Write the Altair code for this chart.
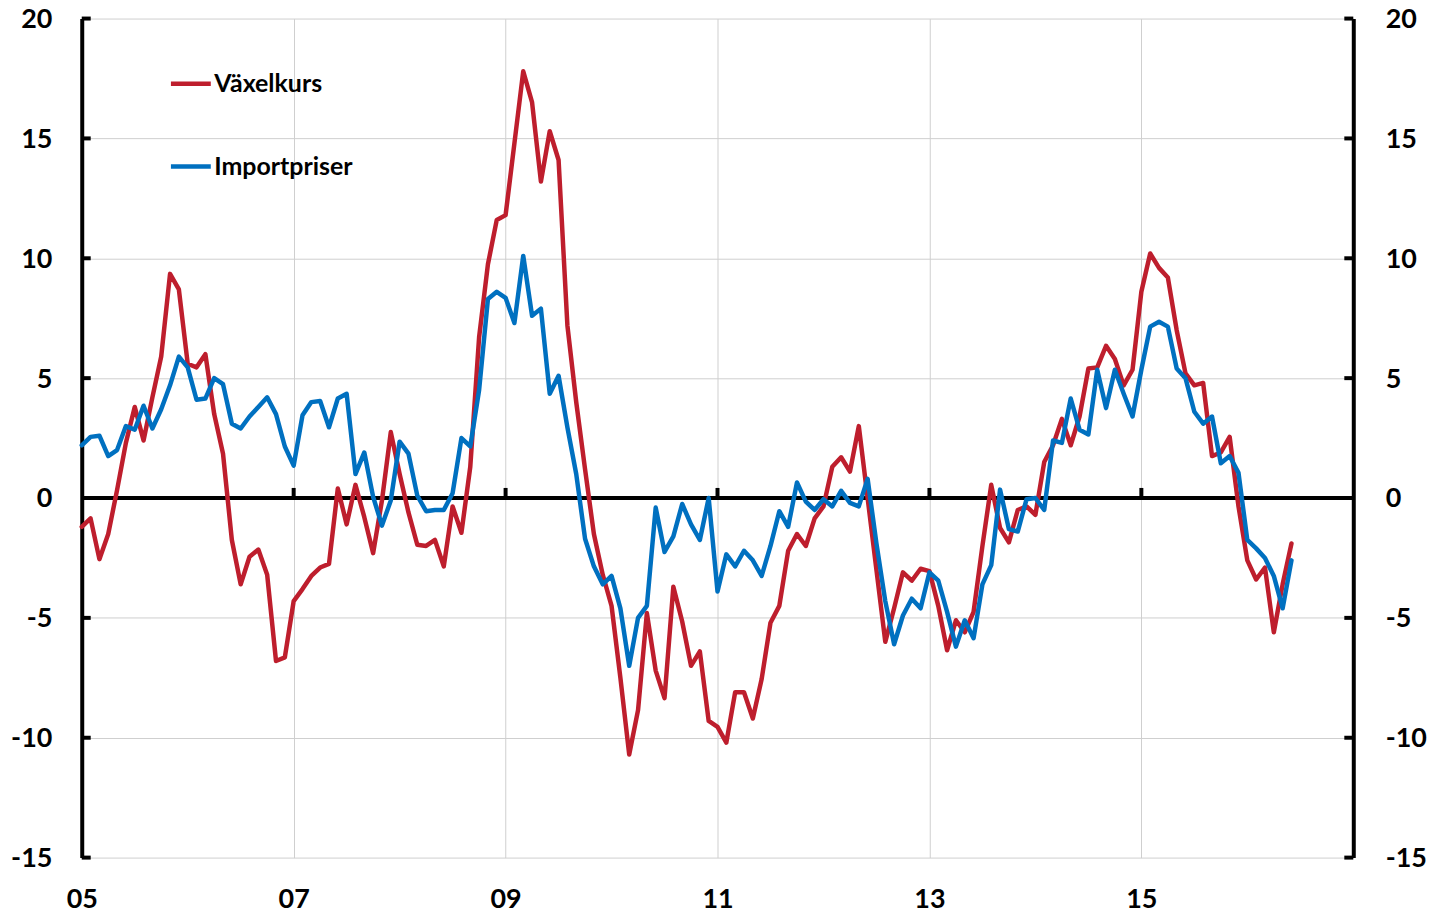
import altair as alt
import pandas as pd

# Monthly values, Jan 2005 - Jun 2016 (annual percentage change)
vaxelkurs = [
    -1.2, -0.85, -2.55, -1.5, 0.33, 2.3, 3.8, 2.4, 4.2, 5.9, 9.35, 8.7,
    5.6, 5.45, 6.0, 3.5, 1.85, -1.75, -3.6, -2.45, -2.15, -3.2, -6.8, -6.65,
    -4.3, -3.8, -3.25, -2.9, -2.75, 0.4, -1.1, 0.55, -0.8, -2.3, -0.1, 2.75,
    1.0, -0.6, -1.95, -2.0, -1.75, -2.85, -0.35, -1.45, 1.3, 6.7, 9.75, 11.6,
    11.8, 14.8, 17.8, 16.5, 13.2, 15.3, 14.1, 7.2, 4.0, 1.2, -1.5, -3.2,
    -4.5, -7.5, -10.7, -8.85, -4.8, -7.2, -8.35, -3.7, -5.15, -7.0, -6.4, -9.3,
    -9.55, -10.2, -8.1, -8.1, -9.2, -7.55, -5.2, -4.5, -2.2, -1.5, -2.0, -0.85,
    -0.35, 1.3, 1.7, 1.1, 3.0, 0.0, -3.0, -6.0, -4.6, -3.1, -3.45, -2.95,
    -3.05, -4.5, -6.35, -5.1, -5.6, -4.75, -2.0, 0.55, -1.25, -1.85, -0.5, -0.35,
    -0.7, 1.5, 2.2, 3.3, 2.2, 3.4, 5.4, 5.45, 6.35, 5.8, 4.7, 5.35,
    8.6, 10.2, 9.6, 9.2, 7.0, 5.2, 4.7, 4.8, 1.75, 1.9, 2.55, -0.35,
    -2.6, -3.4, -2.9, -5.6, -3.6, -1.9,
]
importpriser = [
    2.2, 2.55, 2.6, 1.75, 2.0, 3.0, 2.85, 3.85, 2.9, 3.7, 4.7, 5.9,
    5.45, 4.1, 4.15, 5.0, 4.75, 3.1, 2.9, 3.4, 3.8, 4.2, 3.5, 2.15,
    1.35, 3.45, 4.0, 4.05, 2.95, 4.15, 4.35, 1.0, 1.9, 0.05, -1.15, -0.1,
    2.35, 1.85, 0.1, -0.55, -0.5, -0.5, 0.2, 2.5, 2.15, 4.5, 8.3, 8.6,
    8.35, 7.3, 10.1, 7.6, 7.9, 4.35, 5.1, 2.95, 1.0, -1.7, -2.85, -3.6,
    -3.25, -4.6, -7.0, -5.0, -4.5, -0.4, -2.25, -1.6, -0.25, -1.1, -1.75, 0.0,
    -3.9, -2.35, -2.85, -2.2, -2.6, -3.25, -2.0, -0.55, -1.2, 0.65, -0.15, -0.5,
    -0.05, -0.35, 0.3, -0.2, -0.35, 0.8, -1.9, -4.3, -6.1, -4.9, -4.2, -4.6,
    -3.1, -3.45, -4.75, -6.2, -5.1, -5.85, -3.6, -2.8, 0.35, -1.3, -1.4, -0.05,
    0.0, -0.5, 2.4, 2.3, 4.15, 2.85, 2.65, 5.35, 3.75, 5.35, 4.35, 3.4,
    5.35, 7.15, 7.35, 7.15, 5.4, 5.0, 3.6, 3.1, 3.4, 1.45, 1.75, 1.05,
    -1.75, -2.1, -2.5, -3.25, -4.6, -2.6,
]
series_names = ["Växelkurs", "Importpriser"]
x_tick_years = [2005, 2007, 2009, 2011, 2013, 2015]
zero_tick_years = [2007, 2009, 2011, 2013, 2015]
y_ticks = [-15, -10, -5, 0, 5, 10, 15, 20]

RED = "#BE1E2D"
BLUE = "#0070C0"
GRID = "#cfcfcf"
FONT = "Lato"
W, H = 1276, 842

t = [2005 + i / 12 for i in range(len(vaxelkurs))]
df = pd.DataFrame(
    {
        "t": t + t,
        "value": vaxelkurs + importpriser,
        "series": [series_names[0]] * len(t) + [series_names[1]] * len(t),
    }
)

x_scale = alt.Scale(domain=[2005, 2017], nice=False, zero=False)
y_scale = alt.Scale(domain=[-15, 20], nice=False, zero=False)

x_axis = alt.Axis(
    values=x_tick_years,
    labelExpr="substring(toString(datum.value), 2)",
    grid=True, gridColor=GRID, gridWidth=1,
    domain=False, ticks=False, tickSize=0,
    labelPadding=29, labelFlush=False, labelOverlap=False,
    labelFont=FONT, labelFontSize=27, labelFontWeight="bold", labelColor="black",
    title=None,
)
y_axis_left = alt.Axis(
    orient="left", values=y_ticks,
    labelExpr="toString(datum.value)",
    grid=True, gridColor=GRID, gridWidth=1,
    domain=True, domainColor="black", domainWidth=4,
    ticks=False, tickSize=0, labelPadding=30, labelOverlap=False, labelOffset=1,
    labelFont=FONT, labelFontSize=27, labelFontWeight="bold", labelColor="black",
    title=None,
)
y_axis_right = alt.Axis(
    orient="right", values=y_ticks,
    labelExpr="toString(datum.value)",
    grid=False,
    domain=True, domainColor="black", domainWidth=4,
    ticks=False, tickSize=0, labelPadding=32, labelOverlap=False, labelOffset=1,
    labelFont=FONT, labelFontSize=27, labelFontWeight="bold", labelColor="black",
    title=None,
)

X = alt.X("t:Q", scale=x_scale, axis=x_axis)

lines = alt.Chart(df).mark_line(
    strokeWidth=4.5, strokeCap="round", strokeJoin="round"
).encode(
    x=X,
    y=alt.Y("value:Q", scale=y_scale, axis=y_axis_left),
    color=alt.Color(
        "series:N",
        scale=alt.Scale(domain=series_names, range=[RED, BLUE]),
        legend=alt.Legend(
            title=None, orient="none", legendX=87, legendY=43,
            direction="vertical", symbolType="stroke", symbolStrokeWidth=4.5,
            symbolSize=1600, labelFont=FONT, labelFontSize=25,
            labelFontWeight="bold", labelColor="black", labelOffset=1,
            rowPadding=47, padding=0, labelLimit=400,
        ),
    ),
)

zero_rule = alt.Chart(pd.DataFrame({"y": [0]})).mark_rule(
    color="black", strokeWidth=4
).encode(
    y=alt.Y("y:Q", scale=y_scale, axis=y_axis_left),
)

zero_ticks = alt.Chart(
    pd.DataFrame({"t": zero_tick_years, "y0": [0] * 5, "y1": [0.42] * 5})
).mark_rule(color="black", strokeWidth=4).encode(
    x=X,
    y=alt.Y("y0:Q", scale=y_scale, axis=y_axis_left),
    y2="y1:Q",
)

left_ticks = alt.Chart(pd.DataFrame({"y": y_ticks})).mark_rule(
    color="black", strokeWidth=4
).encode(
    y=alt.Y("y:Q", scale=y_scale, axis=y_axis_left),
    x=alt.value(0), x2=alt.value(9),
)

right_ticks = alt.Chart(pd.DataFrame({"y": y_ticks})).mark_rule(
    color="black", strokeWidth=4
).encode(
    y=alt.Y("y:Q", scale=y_scale, axis=y_axis_right),
    x=alt.value(W - 9), x2=alt.value(W),
)

left = alt.layer(zero_rule, zero_ticks, lines, left_ticks)
chart = (
    alt.layer(left, right_ticks)
    .resolve_scale(y="independent")
    .properties(
        width=W, height=H,
        padding={"left": 74, "top": 9, "right": 80, "bottom": 55},
        autosize=alt.AutoSizeParams(type="none"),
        background="white",
    )
    .configure_view(stroke=None)
)

chart.save("out.html", embed_options={"renderer": "svg", "actions": False})
